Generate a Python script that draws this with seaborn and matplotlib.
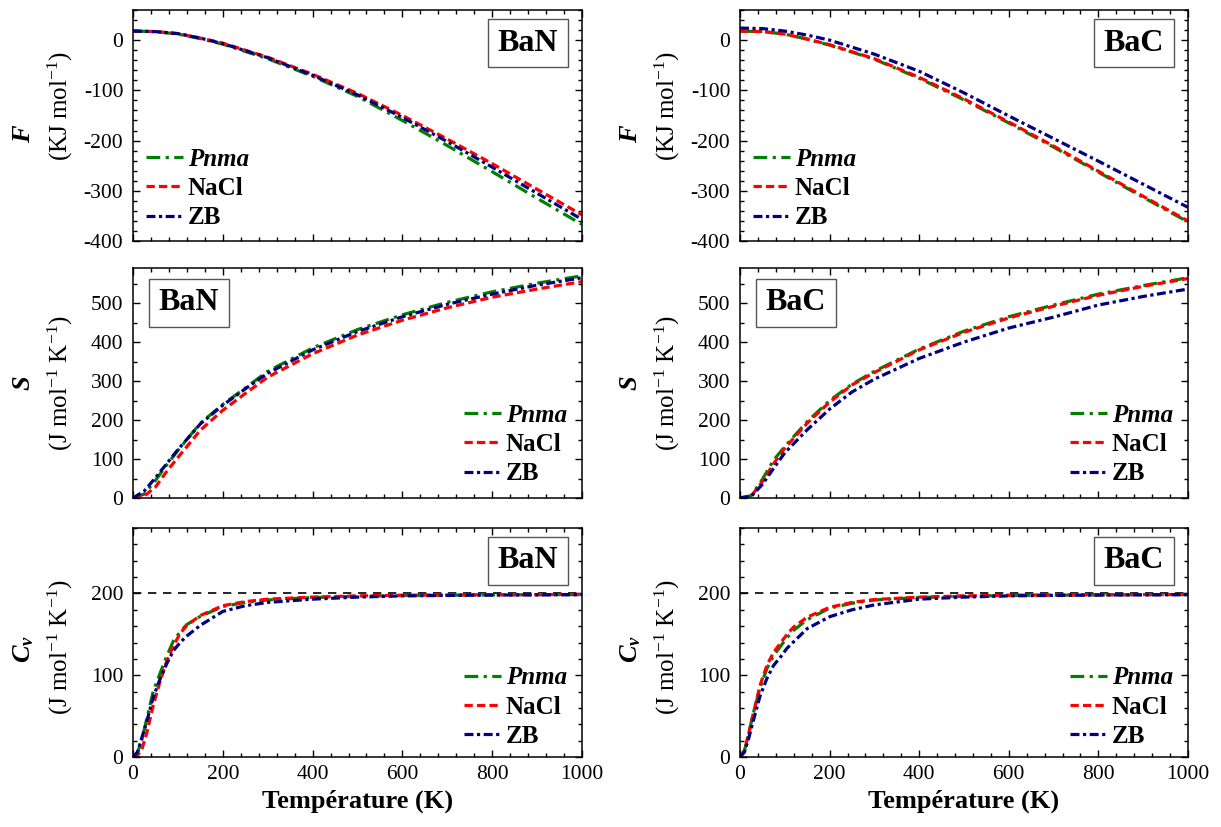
import matplotlib
matplotlib.use("Agg")
import matplotlib.pyplot as plt
from matplotlib.ticker import MultipleLocator
from matplotlib.font_manager import FontProperties
import pandas as pd
import seaborn as sns

# ---------------- data ----------------
phases = ["Pnma", "NaCl", "ZB"]

# Free energy F (kJ/mol)
T_F = [0, 50, 100, 150, 200, 300, 400, 500, 600, 700, 800, 900, 1000]
F_BaN_Pnma = [18, 17, 12, 3, -8, -37, -72, -112, -160, -210, -262, -315, -367]
F_BaN_NaCl = [18, 17, 13, 4, -6, -34, -68, -106, -150, -197, -246, -297, -348]
F_BaN_ZB = [18, 17, 13, 4, -7, -35, -70, -109, -154, -202, -253, -305, -357]
F_BaC_Pnma = [18, 17, 12, 2, -10, -38, -76, -119, -165, -213, -263, -313, -362]
F_BaC_NaCl = [18, 17, 12, 2, -9, -37, -74, -117, -163, -211, -261, -311, -360]
F_BaC_ZB = [24, 23, 18, 10, 0, -28, -62, -105, -151, -196, -241, -287, -333]

# Entropy S (J/mol/K)
T_S = [0, 25, 50, 75, 100, 150, 200, 250, 300, 400, 500, 600, 700, 800, 900, 1000]
S_BaN_Pnma = [0, 10, 45, 85, 122, 192, 240, 282, 325, 385, 432, 470, 502, 529, 551, 570]
S_BaN_NaCl = [0, 5, 28, 68, 104, 174, 225, 268, 310, 370, 418, 456, 488, 515, 536, 555]
S_BaN_ZB = [0, 18, 52, 88, 124, 190, 238, 280, 320, 380, 427, 465, 497, 523, 546, 565]
S_BaC_Pnma = [0, 6, 48, 97, 132, 196, 250, 292, 325, 382, 428, 465, 495, 523, 545, 565]
S_BaC_NaCl = [0, 5, 42, 88, 128, 192, 246, 290, 322, 380, 425, 462, 492, 520, 543, 563]
S_BaC_ZB = [0, 4, 35, 76, 116, 175, 228, 272, 305, 358, 400, 436, 464, 495, 517, 536]

# Heat capacity Cv (J/mol/K)
T_Cv = [0, 10, 20, 30, 45, 60, 75, 90, 105, 120, 150, 200, 250, 300, 400, 500, 600, 800, 1000]
Cv_BaN_Pnma = [0, 5, 22, 45, 80, 102, 123, 142, 153, 162, 172, 184, 189, 192, 195, 196.5, 197.5, 198.2, 198.6]
Cv_BaN_NaCl = [0, 2, 10, 28, 63, 92, 117, 136, 151, 161, 173, 185, 190, 193, 195.5, 197, 197.8, 198.4, 198.7]
Cv_BaN_ZB = [0, 6, 24, 42, 73, 95, 114, 130, 140, 148, 161, 178, 185, 189, 193, 195.5, 197, 198, 198.5]
Cv_BaC_Pnma = [0, 8, 30, 54, 85, 108, 124, 135, 146, 155, 168, 182, 188, 192, 195, 196.5, 197.5, 198.2, 198.6]
Cv_BaC_NaCl = [0, 8, 30, 54, 88, 112, 128, 139, 150, 159, 171, 183, 189, 192.5, 195.5, 197, 197.8, 198.4, 198.7]
Cv_BaC_ZB = [0, 6, 24, 45, 75, 96, 112, 122, 133, 141, 157, 171.5, 180, 186, 193, 195.5, 197, 198, 198.5]

Cv_limit = 200

# ---------------- style ----------------
sns.set_style("ticks")
plt.rcParams["font.family"] = ["Liberation Serif", "DejaVu Serif"]
plt.rcParams.update({
    "mathtext.fontset": "custom",
    "mathtext.rm": "Liberation Serif",
    "mathtext.it": "Liberation Serif:italic",
    "mathtext.bf": "Liberation Serif:bold",
    "mathtext.bfit": "Liberation Serif:bold:italic",
    "axes.linewidth": 1.1,
    "axes.edgecolor": "black",
    "axes.unicode_minus": False,
    "text.color": "black",
    "axes.labelcolor": "black",
    "xtick.color": "black",
    "ytick.color": "black",
})

line_styles = {
    "Pnma": dict(color="#008000", linestyle=(0, (4.3, 1.7, 1.0, 1.7))),
    "NaCl": dict(color="#ff0000", linestyle=(0, (2.6, 1.3))),
    "ZB": dict(color="#000080", linestyle=(0, (2.8, 1.1, 1.0, 1.1))),
}

W, H = 1221, 827
fig = plt.figure(figsize=(W / 100, H / 100), dpi=100)

col_left = {"BaN": 133, "BaC": 740}
col_width = {"BaN": 449, "BaC": 448}
rows = {"F": (10, 241), "S": (268, 498), "Cv": (528, 757)}

panels = {
    "F": dict(T=T_F, ylim=(-400, 60), major=100, minor=20,
              data={"BaN": [F_BaN_Pnma, F_BaN_NaCl, F_BaN_ZB],
                    "BaC": [F_BaC_Pnma, F_BaC_NaCl, F_BaC_ZB]},
              sym=r"$\mathbfit{F}$", unit=r"(KJ mol$^{-1}$)",
              sym_y=0.467, unit_y=0.585,
              box=(0.879, 0.857), leg="lower left"),
    "S": dict(T=T_S, ylim=(0, 590), major=100, minor=50,
              data={"BaN": [S_BaN_Pnma, S_BaN_NaCl, S_BaN_ZB],
                    "BaC": [S_BaC_Pnma, S_BaC_NaCl, S_BaC_ZB]},
              sym=r"$\mathbfit{S}$", unit=r"(J mol$^{-1}$ K$^{-1}$)",
              sym_y=0.5, unit_y=0.5,
              box=(0.125, 0.848), leg="lower right"),
    "Cv": dict(T=T_Cv, ylim=(0, 280), major=100, minor=20,
               data={"BaN": [Cv_BaN_Pnma, Cv_BaN_NaCl, Cv_BaN_ZB],
                     "BaC": [Cv_BaC_Pnma, Cv_BaC_NaCl, Cv_BaC_ZB]},
               sym=r"$\mathbfit{C}_{\mathbfit{v}}$", unit=r"(J mol$^{-1}$ K$^{-1}$)",
               sym_y=0.47, unit_y=0.48,
               box=(0.879, 0.856), leg="lower right"),
}

legend_font = FontProperties(family="Liberation Serif", weight="bold", size=18)

for qty, p in panels.items():
    top, bottom = rows[qty]
    for comp in ["BaN", "BaC"]:
        x0 = col_left[comp]
        w = col_width[comp]
        ax = fig.add_axes([x0 / W, 1 - bottom / H, w / W, (bottom - top) / H])

        for phase, vals in zip(phases, p["data"][comp]):
            df = pd.DataFrame({"T": p["T"], "val": vals})
            sns.lineplot(data=df, x="T", y="val", ax=ax, label=phase,
                         linewidth=2.3, **line_styles[phase])

        if qty == "Cv":
            ax.axhline(Cv_limit, color="black", lw=1.2, ls=(0, (5, 4)), zorder=0)

        ax.set_xlim(0, 1000)
        ax.set_ylim(*p["ylim"])
        ax.xaxis.set_major_locator(MultipleLocator(200))
        ax.xaxis.set_minor_locator(MultipleLocator(40))
        ax.yaxis.set_major_locator(MultipleLocator(p["major"]))
        ax.yaxis.set_minor_locator(MultipleLocator(p["minor"]))
        ax.tick_params(which="both", direction="in", top=True, right=True,
                       width=1.0, labelsize=15.5, colors="black")
        ax.tick_params(which="major", length=5)
        ax.tick_params(which="minor", length=3)
        ax.tick_params(axis="y", pad=7)
        ax.tick_params(axis="x", pad=6)
        ax.set_ylabel("")
        if qty == "Cv":
            ax.set_xlabel("Température (K)", fontsize=19, fontweight="bold", labelpad=4)
        else:
            ax.set_xlabel("")
            ax.tick_params(labelbottom=False)
        for s in ax.spines.values():
            s.set_linewidth(1.1)

        # two-line y label
        ax.text(-109 / w, p["sym_y"], p["sym"], transform=ax.transAxes,
                rotation=90, ha="center", va="center", fontsize=19)
        ax.text(-73 / w, p["unit_y"], p["unit"], transform=ax.transAxes,
                rotation=90, ha="center", va="center", fontsize=18)

        # compound tag
        ax.text(p["box"][0], p["box"][1], comp, transform=ax.transAxes,
                ha="center", va="center", fontsize=23, fontweight="bold",
                bbox=dict(boxstyle="square,pad=0.3", fc="white", ec="#555555", lw=1.0))

        if p["leg"] == "lower left":
            anchor = (0.03, 0.05)
        elif qty == "S":
            anchor = (0.966, 0.055)
        else:
            anchor = (0.966, 0.04)
        leg = ax.legend(loc=p["leg"], bbox_to_anchor=anchor, frameon=False,
                        borderpad=0, borderaxespad=0, handlelength=1.45,
                        handletextpad=0.2, labelspacing=0.25, prop=legend_font)
        leg.get_texts()[0].set_fontstyle("italic")

fig.savefig("out.png", dpi=100, facecolor="white")
